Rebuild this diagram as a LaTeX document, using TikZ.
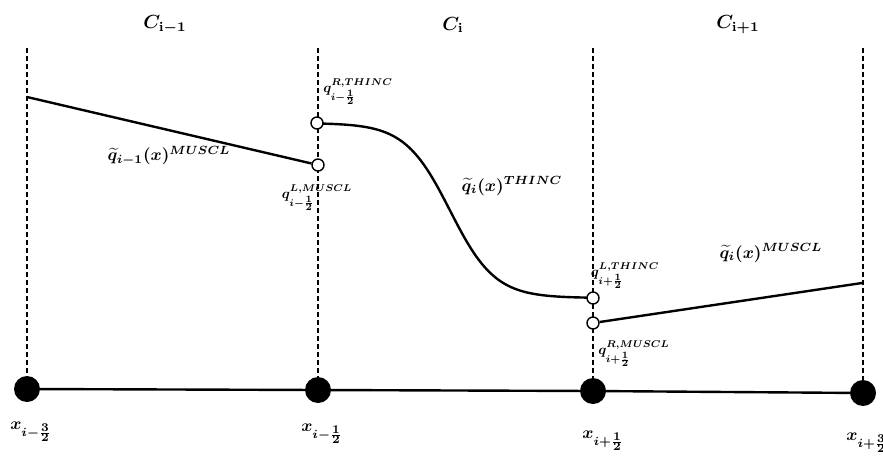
\documentclass[tikz,border=0pt]{standalone}
\usepackage{amsmath}
\begin{document}
\begin{tikzpicture}[x=1pt,y=-1pt,
  curveline/.style={line width=2.4pt},
  gridline/.style={dash pattern=on 5pt off 3pt,line width=1.1pt},
  opendot/.style={circle,draw,fill=white,line width=1.4pt,minimum size=12pt,inner sep=0pt},
  fulldot/.style={circle,fill=black,minimum size=26pt,inner sep=0pt},
  celllabel/.style={font=\boldmath,inner sep=0pt,scale=1.9},
  fnlabel/.style={font=\boldmath,inner sep=0pt,scale=1.7},
  facelabel/.style={font=\boldmath,inner sep=0pt,scale=1.4},
  poslabel/.style={font=\boldmath,inner sep=0pt,scale=1.7}]
\useasboundingbox (0,0) rectangle (883,460);
% grid tops
\coordinate (t1) at (27,48);
\coordinate (t2) at (318,48);
\coordinate (t3) at (593,48);
\coordinate (t4) at (863,48);
% cell centres (full dots)
\node[fulldot] (d1) at (27,389) {};
\node[fulldot] (d2) at (318,390) {};
\node[fulldot] (d3) at (593,391) {};
\node[fulldot] (d4) at (863,393) {};
\draw[gridline] (t1) -- (d1);
\draw[gridline] (t2) -- (d2);
\draw[gridline] (t3) -- (d3);
\draw[gridline] (t4) -- (d4);
\draw[curveline] (d1) -- (d2) -- (d3) -- (d4);
% reconstructions
\coordinate (L0) at (27,97);
\coordinate (R1) at (862,283);
\node[opendot] (c2) at (318,165) {};
\node[opendot] (c4) at (593,323) {};
\draw[curveline] (L0) -- (c2);
\draw[curveline] (c4) -- (R1);
\draw[curveline] plot[domain=323:587,samples=120] (\x,{210.5+87.5*tanh((\x-450)/45)});
\node[opendot] (c1) at (317,123) {};
\node[opendot] (c3) at (593,298) {};
% cell labels
\node[celllabel] (C1) at (165,25) {$C_{\mathbf{i-1}}$};
\node[celllabel] (C2) at (453,25) {$C_{\mathbf{i}}$};
\node[celllabel] (C3) at (738,25) {$C_{\mathbf{i+1}}$};
% function labels
\node[fnlabel] (f1) at (169,156) {$\widetilde{q}_{i-1}(x)^{MUSCL}$};
\node[fnlabel] (f2) at (512,186) {$\widetilde{q}_{i}(x)^{THINC}$};
\node[fnlabel] (f3) at (771,253) {$\widetilde{q}_{i}(x)^{MUSCL}$};
% face values
\node[facelabel] (q1) at (358,92) {$q^{R,THINC}_{i-\frac{\scriptstyle 1}{\scriptstyle 2}}$};
\node[facelabel] (q2) at (317,198) {$q^{L,MUSCL}_{i-\frac{\scriptstyle 1}{\scriptstyle 2}}$};
\node[facelabel] (q3) at (625,276) {$q^{L,THINC}_{i+\frac{\scriptstyle 1}{\scriptstyle 2}}$};
\node[facelabel] (q4) at (634,354) {$q^{R,MUSCL}_{i+\frac{\scriptstyle 1}{\scriptstyle 2}}$};
% positions
\node[poslabel] (x1) at (31,432) {$x_{i-\frac{\scriptstyle 3}{\scriptstyle 2}}$};
\node[poslabel] (x2) at (322,434) {$x_{i-\frac{\scriptstyle 1}{\scriptstyle 2}}$};
\node[poslabel] (x3) at (603,441) {$x_{i+\frac{\scriptstyle 1}{\scriptstyle 2}}$};
\node[poslabel] (x4) at (867,443) {$x_{i+\frac{\scriptstyle 3}{\scriptstyle 2}}$};
\end{tikzpicture}
\end{document}
